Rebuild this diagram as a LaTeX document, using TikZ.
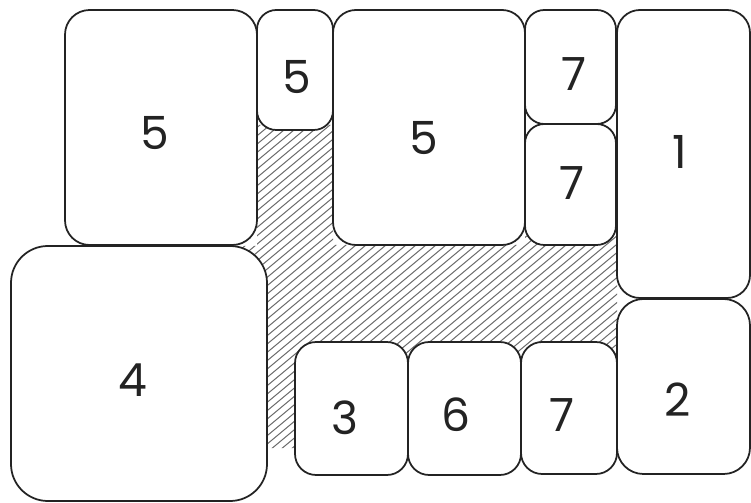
\documentclass[tikz,border=0pt]{standalone}
\usepackage{fontspec}
\setsansfont{Poppins}
\usetikzlibrary{fit}
\definecolor{edgecolor}{RGB}{35, 35, 35}
\definecolor{hatchcolor}{RGB}{105, 105, 105}

\begin{document}
\begin{tikzpicture}[
    x=0.02cm, y=-0.02cm,
    tile/.style={draw=edgecolor, fill=white, line width=1pt, inner sep=0pt, rounded corners=#1},
    digit/.style={font=\sffamily\fontsize{26}{30}\selectfont, text=edgecolor},
    hatch/.style={hatchcolor, line width=0.55pt},
]

\useasboundingbox (0,0) rectangle (751,503);

% ======= HATCHED GAP =======
\begin{scope}
    \clip (257,125) -- (333,125) -- (333,245) -- (525,245) -- (525,228)
        -- (617,228) -- (617,360) -- (295,360) -- (295,448) -- (262,448)
        -- (262,290) -- (235,290) -- (235,246) -- (257,246) -- cycle;
    \foreach \k in {250,260,...,1250} {
        \draw[hatch] (\k-600,500) -- (\k,0);
    }
\end{scope}

% ======= TILES =======
% name / left / top / right / bottom / corner
\foreach \n/\xa/\ya/\xb/\yb/\r in {
    A/65/10/257/245/14pt,
    B/257/10/333/130/11pt,
    C/333/10/525/245/13pt,
    D/525/10/616/124/11pt,
    E/525/124/616/245/11pt,
    F/617/10/750/298/13pt,
    G/617/299/750/474/15pt,
    H/11/246/267/501/21pt,
    I/295/342/408/475/12pt,
    J/408/342/521/475/12pt,
    K/521/342/617/474/12pt} {
    \node[tile=\r, fit={(\xa,\ya) (\xb,\yb)}] (T-\n) {};
}

% ======= NUMBERS =======
\foreach \n/\lx/\ly/\t in {
    A/155/133/5, B/297/77/5, C/424/138/5, D/574/74/7, E/572/183/7,
    F/680/152/1, G/678/400/2, H/133/380/4, I/345/418/3, J/456/415/6,
    K/562/415/7} {
    \node[digit] (N-\n) at (\lx,\ly) {\t};
}

\end{tikzpicture}
\end{document}
